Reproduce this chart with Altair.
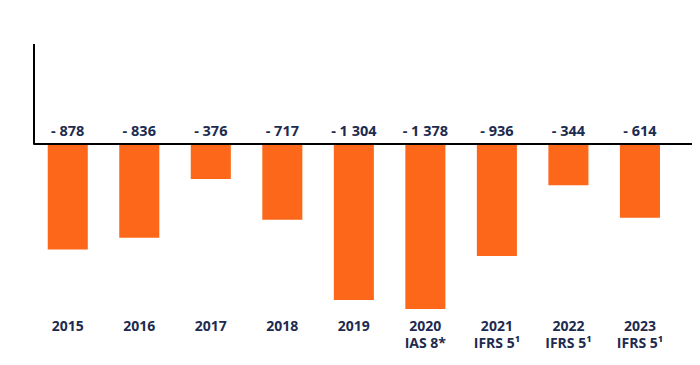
import altair as alt
import pandas as pd

years = ["2015", "2016", "2017", "2018", "2019", "2020\nIAS 8*", "2021\nIFRS 5¹", "2022\nIFRS 5¹", "2023\nIFRS 5¹"]
# printed values
values = [-878, -836, -376, -717, -1304, -1378, -936, -344, -614]
# bar lengths as drawn in the reference picture (some bars are not drawn to the printed value)
bar_lengths = [-878, -780, -290, -630, -1300, -1375, -932, -344, -614]

def fmt(v):
    s = f"{abs(v):,}".replace(",", " ")
    return f"- {s}" if v < 0 else s

labels = [fmt(v) for v in values]
df = pd.DataFrame({"year": years, "value": values, "bar": bar_lengths, "label": labels})

W, H = 658, 268
YMIN, YMAX = -1400, 835
FONT = "Open Sans"
NAVY = "#1D2B4F"
ORANGE = "#FC6719"

x = alt.X("year:N", sort=years,
          scale=alt.Scale(paddingInner=0.44, paddingOuter=0.32, align=0.3),
          axis=alt.Axis(title=None, domain=False, ticks=False, labelAngle=0,
                        labelExpr="split(datum.label, '\\n')",
                        labelFont=FONT, labelFontSize=14, labelFontWeight="bold",
                        labelColor=NAVY, labelPadding=7, labelLineHeight=17))
y = alt.Y("bar:Q", scale=alt.Scale(domain=[YMIN, YMAX], nice=False, zero=False),
          axis=None)

base = alt.Chart(df)
bars = base.mark_bar(color=ORANGE).encode(x=x, y=y, y2=alt.datum(0))
text = base.mark_text(font=FONT, fontSize=14.5, fontWeight="bold", color=NAVY,
                      baseline="bottom", dy=-5).encode(
    x=alt.X("year:N", sort=years), y=alt.datum(0), text="label:N")
zero = base.mark_rule(color="black", strokeWidth=1.2).encode(
    y=alt.datum(0), x=alt.value(0), x2=alt.value(W))
yline = base.mark_rule(color="black", strokeWidth=1.2).encode(
    x=alt.value(0), y=alt.datum(YMAX), y2=alt.datum(0))

chart = alt.layer(bars, zero, yline, text).properties(
    width=W, height=H,
    autosize=alt.AutoSizeParams(type="none"),
    padding={"left": 26, "top": 36, "right": 0, "bottom": 45},
    background="white",
).configure_view(stroke=None, strokeWidth=0)

chart.save("out.html", embed_options={"renderer": "svg", "actions": False})
